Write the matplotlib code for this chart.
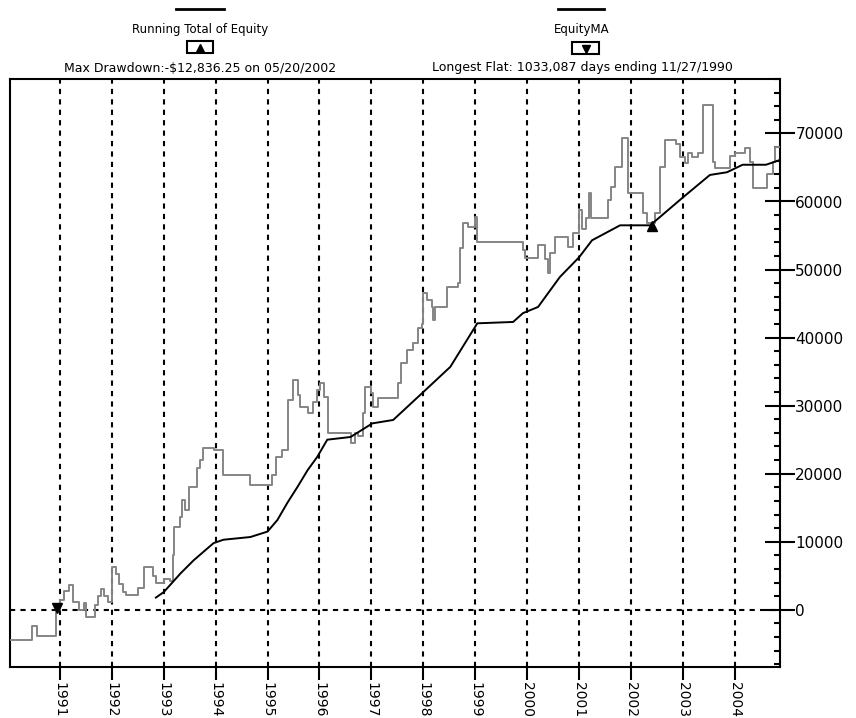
import matplotlib.pyplot as plt
from matplotlib.patches import Rectangle
from matplotlib.ticker import MultipleLocator

# Running total of equity (step changes: decimal year, value)
equity_years = [1990.06, 1990.46, 1990.56, 1990.93, 1991.0, 1991.08, 1991.18, 1991.25, 1991.37,
                1991.47, 1991.50, 1991.67, 1991.73, 1991.79, 1991.85, 1991.93, 1992.0, 1992.08,
                1992.14, 1992.21, 1992.27, 1992.5, 1992.62, 1992.79, 1992.85, 1993.0, 1993.13,
                1993.17, 1993.2, 1993.31, 1993.36, 1993.42, 1993.48, 1993.65, 1993.7, 1993.75,
                1993.96, 1994.15, 1994.67, 1995.09, 1995.17, 1995.28, 1995.4, 1995.5, 1995.58,
                1995.63, 1995.77, 1995.88, 1995.96, 1996.02, 1996.08, 1996.17, 1996.6, 1996.69,
                1996.75, 1996.83, 1996.88, 1997.0, 1997.04, 1997.12, 1997.52, 1997.58, 1997.69,
                1997.81, 1997.9, 1997.98, 1998.0, 1998.08, 1998.17, 1998.19, 1998.23, 1998.46,
                1998.67, 1998.71, 1998.77, 1998.87, 1999.0, 1999.04, 1999.92, 1999.96, 2000.21,
                2000.35, 2000.4, 2000.44, 2000.54, 2000.79, 2000.88, 2001.0, 2001.06, 2001.13,
                2001.19, 2001.23, 2001.56, 2001.62, 2001.69, 2001.83, 2001.94, 2002.23, 2002.31,
                2002.46, 2002.56, 2002.65, 2002.87, 2002.94, 2003.04, 2003.1, 2003.17, 2003.29,
                2003.38, 2003.58, 2003.62, 2003.9, 2004.0, 2004.19, 2004.29, 2004.35, 2004.62,
                2004.73, 2004.77, 2004.87]
equity_vals = [-4400, -2400, -3800, 0, 1500, 2800, 3600, 1200, 0,
               1000, -1000, 700, 2000, 3000, 2000, 1200, 6300, 5300,
               3800, 2600, 2200, 3200, 6300, 5000, 4000, 4600, 4200,
               8100, 12200, 13700, 16200, 14600, 18100, 20800, 22000, 23800,
               23500, 19800, 18400, 19800, 22500, 23500, 30800, 33800, 31500,
               29800, 28900, 30500, 32300, 33300, 31300, 26000, 24500, 26000,
               25500, 28900, 32700, 31800, 29800, 31100, 33300, 36300, 38200,
               39200, 41400, 42000, 46500, 45500, 44500, 42600, 44500, 47400,
               48000, 53200, 56800, 56200, 57700, 54000, 52900, 51700, 53600,
               51500, 49500, 52400, 54800, 53300, 55400, 58700, 56000, 57600,
               61200, 57600, 60200, 62100, 65100, 69300, 61200, 58300, 56800,
               58300, 65100, 69000, 68500, 66500, 65600, 67100, 66500, 67100,
               74200, 65800, 64900, 66700, 67100, 67800, 65800, 62000, 64000,
               65800, 68000, 68000]

# Equity moving average
ma_years = [1992.85, 1993.0, 1993.13, 1993.33, 1993.58, 1993.96, 1994.15, 1994.67, 1995.0,
            1995.19, 1995.38, 1995.58, 1995.77, 1995.96, 1996.15, 1996.6, 1997.02, 1997.42,
            1998.0, 1998.52, 1999.04, 1999.73, 1999.92, 2000.21, 2000.63, 2001.0, 2001.25,
            2001.79, 2002.37, 2003.0, 2003.52, 2003.85, 2004.15, 2004.6, 2004.87]
ma_vals = [1800, 2600, 3700, 5400, 7300, 9800, 10300, 10700, 11500,
           13200, 15700, 18100, 20500, 22500, 25000, 25400, 27400, 27900,
           32000, 35700, 42100, 42300, 43600, 44500, 48900, 51800, 54300,
           56500, 56500, 60600, 63900, 64300, 65400, 65400, 66100]

year_ticks = list(range(1991, 2005))
value_ticks = list(range(0, 70001, 10000))

drawdown_mark = (1990.95, 300)
ma_mark = (2002.4, 56400)

W, H = 856, 718
fig = plt.figure(figsize=(W / 100, H / 100), dpi=100)
ax = fig.add_axes([10 / W, 1 - 667 / H, 770 / W, 588 / H])

ax.plot(equity_years, equity_vals, drawstyle='steps-post', color='#858585', lw=1.4, zorder=3)
ax.plot(ma_years, ma_vals, color='black', lw=1.4, zorder=4)
ax.plot(*drawdown_mark, marker='v', color='black', ms=7, zorder=5)
ax.plot(*ma_mark, marker='^', color='black', ms=7, zorder=5)

dash = (0, (2.5, 2.5))
for yr in year_ticks:
    ax.axvline(yr, color='black', lw=1.5, ls=dash, zorder=1)
ax.axhline(0, color='black', lw=1.5, ls=dash, zorder=1)

ax.set_xlim(1990.04, 2004.87)
ax.set_ylim(-8400, 78000)
for s in ax.spines.values():
    s.set_linewidth(1.5)

ax.set_xticks(year_ticks)
ax.set_xticklabels([str(y) for y in year_ticks], rotation=270, fontsize=10)
ax.tick_params(axis='x', direction='out', length=9, width=1.5, pad=2)

ax.yaxis.tick_right()
ax.set_yticks(value_ticks)
ax.set_yticklabels([str(v) for v in value_ticks], fontsize=11)
ax.yaxis.set_minor_locator(MultipleLocator(2000))
ax.tick_params(axis='y', which='major', direction='inout', length=22, width=1.5, pad=0)
ax.tick_params(axis='y', which='minor', direction='in', length=4, width=1.5)

# header legend
def fx(px):
    return px / W

def fy(py):
    return 1 - py / H

for (x0, x1, cx, label, info, box, mk) in [
        (176, 224, 200, 'Running Total of Equity',
         'Max Drawdown:-$12,836.25 on 05/20/2002', (187, 41, 26, 12), '^'),
        (558, 604, 582, 'EquityMA',
         'Longest Flat: 1033,087 days ending 11/27/1990', (572, 42, 27, 12), 'v')]:
    fig.add_artist(plt.Line2D([fx(x0), fx(x1)], [fy(9), fy(9)], color='black', lw=2))
    fig.text(fx(cx), fy(30), label, ha='center', va='center', fontsize=8.5)
    bx, by, bw, bh = box
    fig.add_artist(Rectangle((fx(bx), fy(by + bh)), bw / W, bh / H, fill=False,
                             ec='black', lw=1.5, transform=fig.transFigure))
    fig.add_artist(plt.Line2D([fx(bx + bw / 2)], [fy(by + bh / 2 + 1)], marker=mk,
                              color='black', ms=6, transform=fig.transFigure))
    fig.text(fx(cx), fy(68), info, ha='center', va='center', fontsize=9)

fig.savefig('out.png', dpi=100)
